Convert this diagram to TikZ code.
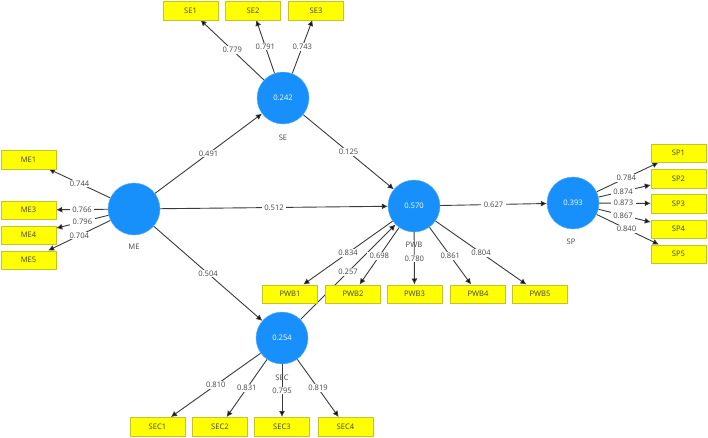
\documentclass[tikz,border=0pt]{standalone}
\usepackage{fontspec}
\setmainfont{Open Sans}
\usepackage{tikz}
\usetikzlibrary{shapes,arrows,arrows.meta,positioning,backgrounds}

\definecolor{latentblue}{RGB}{24,144,252}
\definecolor{itemyellow}{RGB}{255,255,0}
\definecolor{itemedge}{RGB}{196,196,40}
\definecolor{linkgray}{RGB}{58,58,62}
\definecolor{textgray}{RGB}{70,70,76}

\tikzset{
	latent/.style={shape=circle,fill=latentblue,draw=latentblue!70!white,line width=0.4pt,minimum size=52pt,inner sep=0pt,text=white,font=\fontsize{7.6}{9}\selectfont},
	item/.style={shape=rectangle,fill=itemyellow,draw=itemedge,line width=0.5pt,minimum width=55pt,minimum height=18.5pt,inner sep=0pt,text=black!75,font=\fontsize{7.6}{9}\selectfont},
	weight/.style={fill=white,inner xsep=2.4pt,inner ysep=1pt,text=textgray,font=\fontsize{7.6}{9}\selectfont},
	caption/.style={inner sep=0pt,text=textgray,font=\fontsize{7.6}{9}\selectfont},
	link/.style={draw=linkgray,line width=0.9pt,>={Latex[length=6pt,width=6pt]}}
}

\begin{document}
\begin{tikzpicture}[x=1pt,y=-1pt]
	\useasboundingbox (0,0) rectangle (708,437);

	\node[latent] (ME) at (134,209) {};
	\node[latent] (SE) at (283,98) {0.242};
	\node[latent] (PWB) at (414,206) {0.570};
	\node[latent] (SP) at (573,203) {0.393};
	\node[latent] (SEC) at (282,338) {0.254};

	\node[caption] (MEname) at (134,247) {ME};
	\node[caption] (SEname) at (283,138) {SE};
	\node[caption] (PWBname) at (414,245) {PWB};
	\node[caption] (SPname) at (571,242) {SP};
	\node[caption] (SECname) at (282,378) {SEC};

	\node[item] (ME1) at (28.5,159.5) {ME1};
	\node[item] (ME3) at (28.5,210) {ME3};
	\node[item] (ME4) at (28.5,235) {ME4};
	\node[item] (ME5) at (28.5,260) {ME5};

	\node[item] (SE1) at (190.5,10.5) {SE1};
	\node[item] (SE2) at (253,10.5) {SE2};
	\node[item] (SE3) at (316,10.5) {SE3};

	\node[item] (PWB1) at (290,294) {PWB1};
	\node[item] (PWB2) at (353,294) {PWB2};
	\node[item] (PWB3) at (414.5,294) {PWB3};
	\node[item] (PWB4) at (478,294) {PWB4};
	\node[item] (PWB5) at (540,294) {PWB5};

	\node[item] (SP1) at (678.5,153) {SP1};
	\node[item] (SP2) at (678.5,178.5) {SP2};
	\node[item] (SP3) at (678.5,203.5) {SP3};
	\node[item] (SP4) at (678.5,229) {SP4};
	\node[item] (SP5) at (678.5,254) {SP5};

	\node[item] (SEC1) at (157.5,426.5) {SEC1};
	\node[item] (SEC2) at (220,426.5) {SEC2};
	\node[item] (SEC3) at (282,426.5) {SEC3};
	\node[item] (SEC4) at (345.5,426.5) {SEC4};

	\begin{scope}[on background layer]
		\path [link,->] (ME) edge node[weight] (wME1) {0.744} (ME1);
		\path [link,->] (ME) edge node[weight] (wME3) {0.766} (ME3);
		\path [link,->] (ME) edge node[weight] (wME4) {0.796} (ME4);
		\path [link,->] (ME) edge node[weight] (wME5) {0.704} (ME5);

		\path [link,->] (ME) edge node[weight] (wMESE) {0.491} (SE);
		\path [link,->] (ME) edge node[weight] (wMEPWB) {0.512} (PWB);
		\path [link,->] (ME) edge node[weight] (wMESEC) {0.504} (SEC);
		\path [link,->] (SE) edge node[weight] (wSEPWB) {0.125} (PWB);
		\path [link,->] (SEC) edge node[weight] (wSECPWB) {0.257} (PWB);
		\path [link,->] (PWB) edge node[weight] (wPWBSP) {0.627} (SP);

		\path [link,->] (SE) edge node[weight] (wSE1) {0.779} (SE1);
		\path [link,->] (SE) edge node[weight] (wSE2) {0.791} (SE2);
		\path [link,->] (SE) edge node[weight] (wSE3) {0.743} (SE3);

		\path [link,->] (PWB) edge node[weight] (wPWB1) {0.834} (PWB1);
		\path [link,->] (PWB) edge node[weight] (wPWB2) {0.698} (PWB2);
		\path [link,->] (PWB) edge node[weight] (wPWB3) {0.780} (PWB3);
		\path [link,->] (PWB) edge node[weight] (wPWB4) {0.861} (PWB4);
		\path [link,->] (PWB) edge node[weight] (wPWB5) {0.804} (PWB5);

		\path [link,->] (SP) edge node[weight,pos=.48] (wSP1) {0.784} (SP1);
		\path [link,->] (SP) edge node[weight,pos=.47] (wSP2) {0.874} (SP2);
		\path [link,->] (SP) edge node[weight,pos=.47] (wSP3) {0.873} (SP3);
		\path [link,->] (SP) edge node[weight,pos=.47] (wSP4) {0.867} (SP4);
		\path [link,->] (SP) edge node[weight,pos=.48] (wSP5) {0.840} (SP5);

		\path [link,->] (SEC) edge node[weight] (wSEC1) {0.810} (SEC1);
		\path [link,->] (SEC) edge node[weight] (wSEC2) {0.831} (SEC2);
		\path [link,->] (SEC) edge node[weight] (wSEC3) {0.795} (SEC3);
		\path [link,->] (SEC) edge node[weight] (wSEC4) {0.819} (SEC4);
	\end{scope}
\end{tikzpicture}
\end{document}
